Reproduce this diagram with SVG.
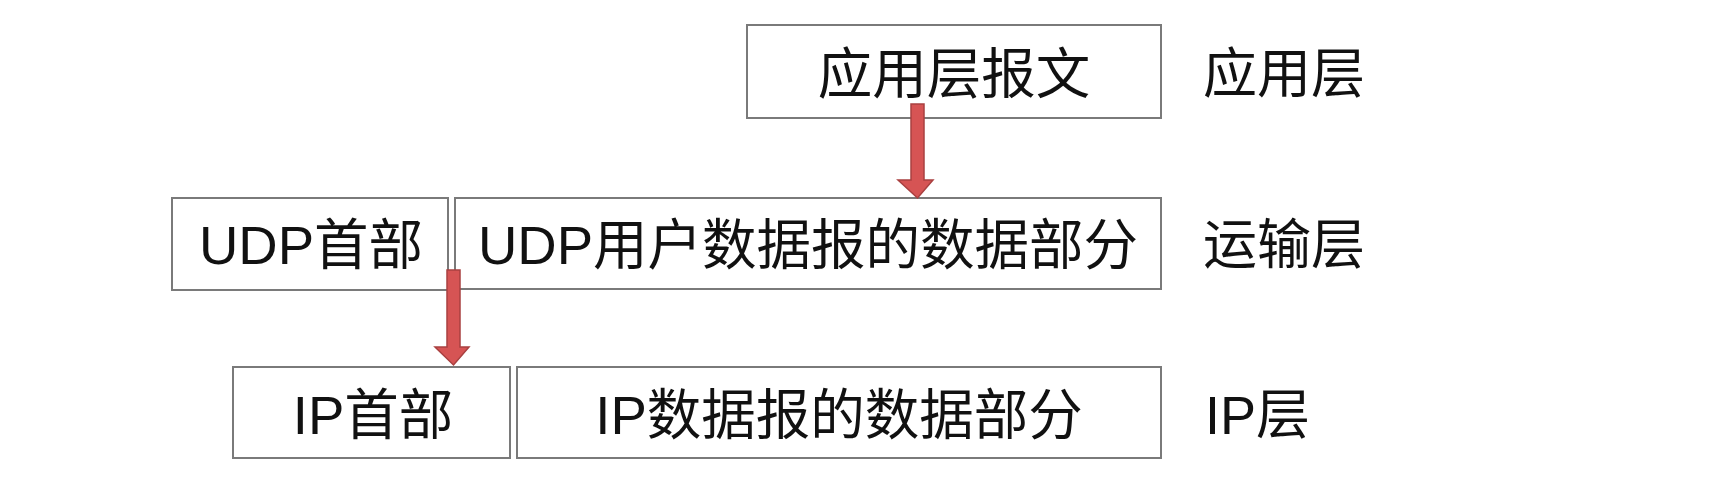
<svg xmlns="http://www.w3.org/2000/svg" width="1735" height="490" viewBox="0 0 1735 490">
<style>
.box{fill:#fff;stroke:#7a7a7a;stroke-width:2}
.t{font-family:"Liberation Sans","Noto Sans CJK SC",sans-serif;font-size:54.5px;fill:#111;text-anchor:middle}
.lab{font-family:"Liberation Sans","Noto Sans CJK SC",sans-serif;font-size:54px;fill:#111}
.arr{fill:#d65454;stroke:#a94040;stroke-width:1.5;stroke-linejoin:miter}
</style>
<rect width="1735" height="490" fill="#fff"/>
<g id="app-msg"><rect class="box" x="747" y="25" width="414" height="93"/><text class="t" x="954" y="93">应用层报文</text></g>
<g id="udp-header"><rect class="box" x="172" y="198" width="276" height="92"/><text class="t" x="311" y="264">UDP首部</text></g>
<g id="udp-data"><rect class="box" x="455" y="198" width="706" height="91"/><text class="t" x="808" y="264">UDP用户数据报的数据部分</text></g>
<g id="ip-header"><rect class="box" x="233" y="367" width="277" height="91"/><text class="t" x="373" y="434">IP首部</text></g>
<g id="ip-data"><rect class="box" x="517" y="367" width="644" height="91"/><text class="t" x="839" y="434">IP数据报的数据部分</text></g>
<g id="layer-app"><text class="lab" x="1203" y="93">应用层</text></g>
<g id="layer-transport"><text class="lab" x="1203" y="264">运输层</text></g>
<g id="layer-ip"><text class="lab" x="1205" y="434">IP层</text></g>
<g id="connectors">
<polygon class="arr" points="911,104 924,104 924,180 933,180 917.5,198 898,180 911,180"/>
<polygon class="arr" points="447,270 460,270 460,347 469,347 453.5,365 435,347 447,347"/>
</g>
</svg>
